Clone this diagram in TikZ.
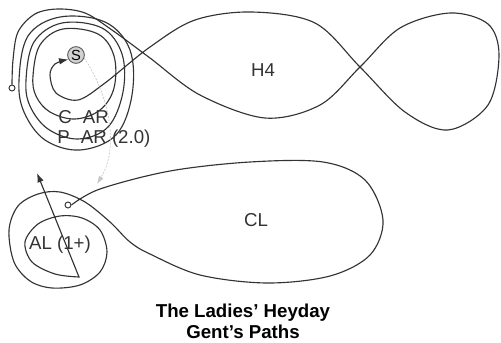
\documentclass[tikz,border=0pt]{standalone}
\usepackage{fontspec}
\setmainfont{Liberation Sans}
\usetikzlibrary{arrows.meta}
\definecolor{pathgray}{HTML}{333333}
\tikzset{
  route/.style={draw=pathgray, line width=0.85pt},
  startdot/.style={draw=pathgray, circle, fill=white, inner sep=0pt, minimum size=4.5pt, line width=0.7pt},
  spot/.style={draw=gray!70!black, circle, fill=gray!35, inner sep=0pt, minimum size=12.5pt, line width=0.7pt, font=\fontsize{11}{11}\selectfont},
  figlabel/.style={font=\fontsize{14}{16}\selectfont, text=pathgray, inner sep=0pt},
  titletext/.style={font=\bfseries\fontsize{14}{15.5}\selectfont, align=center},
  cue/.style={draw=gray!45, dashed, dash pattern=on 1.5pt off 1pt, line width=0.5pt, -{Latex[length=6pt,width=4pt]}},
  tip/.style={-{Latex[length=7pt,width=5pt]}}
}

\begin{document}
\begin{tikzpicture}[x=0.75pt, y=-0.75pt]
  \useasboundingbox (0,0) rectangle (501,343);
  \node[spot] (S) at (76,55) {S};
  \node[startdot] (start) at (12,88) {};
  \node[startdot] (clstart) at (68,205) {};
  \coordinate (cueend) at (97,184);
  \coordinate (altip) at (37,173);
  \draw[route] plot[smooth cycle, tension=0.6] coordinates {(19,80) (28,36) (60,17) (105,22) (130,50) (132,95) (116,135) (80,150) (45,140) (24,112)};
  \draw[route] plot[smooth cycle, tension=0.6] coordinates {(26,80) (34,42) (62,23) (102,28) (122,54) (123,92) (108,127) (78,139) (48,129) (30,106)};
  \draw[route] plot[smooth cycle, tension=0.6] coordinates {(33,76) (40,45) (63,29) (98,34) (114,56) (114,88) (100,110) (75,119) (50,112) (36,96)};
  \draw[route, tip] plot[smooth, tension=0.55] coordinates {(start.north) (13,60) (18,32) (35,14) (58,9) (85,13) (112,30) (150,58) (200,95) (265,118) (320,105) (360,67) (400,28) (450,13) (488,24) (499,55) (488,105) (448,130) (405,112) (360,67) (315,23) (252,12) (195,20) (150,47) (105,83) (78,100) (56,93) (50,75) (55,64) (S.210)};
  \draw[route, tip] plot[smooth, tension=0.55] coordinates {(clstart.east) (100,189) (170,171) (250,162) (323,162) (365,180) (383,220) (370,255) (330,276) (267,283) (200,275) (150,254) (130,242) (110,222) (85,202) (60,192) (38,194) (18,206) (9,230) (14,262) (30,281) (52,288) (80,285) (100,272) (107,252) (100,230) (82,218) (60,216) (38,224) (25,242) (32,262) (55,274) (79,277)} -- (altip);
  \draw[cue] (S.-20) .. controls (112,100) and (118,150) .. (cueend);
  \node[figlabel] (h4) at (263,70) {H4};
  \node[figlabel] (cl) at (256,220) {CL};
  \node[figlabel, anchor=west] (car) at (58,117) {C\hspace{0.6em}AR};
  \node[figlabel, anchor=west] (par) at (57,139) {P\hspace{0.6em}AR (2.0)};
  \node[figlabel] (al) at (60,245) {AL (1+)};
  \node[titletext] (title) at (243,321) {The Ladies’ Heyday\\Gent’s Paths};
\end{tikzpicture}
\end{document}
